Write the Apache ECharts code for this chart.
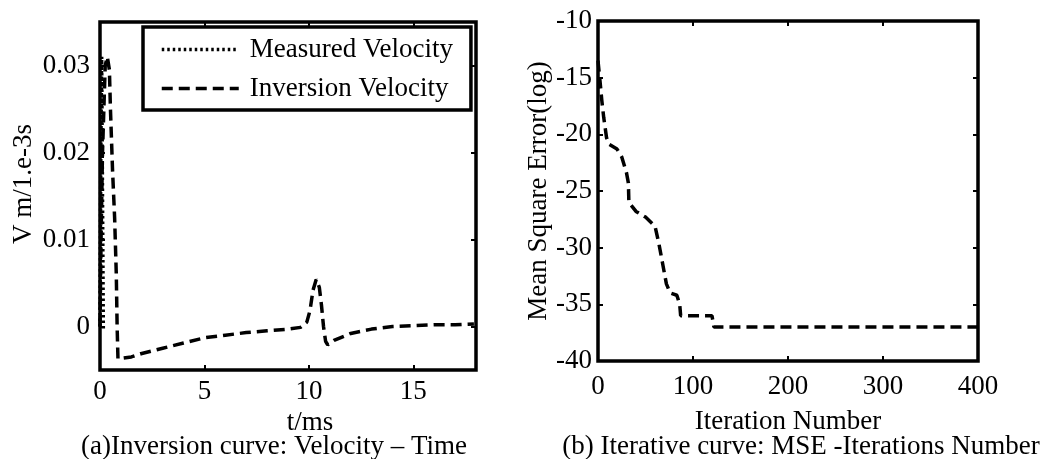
<!DOCTYPE html>
<html>
<head>
<meta charset="utf-8">
<script src="https://cdn.jsdelivr.net/npm/echarts@6/dist/echarts.min.js"></script>
<style>
html,body{margin:0;padding:0;background:#fff;}
#chart{width:1043px;height:459px;}
</style>
</head>
<body>
<div id="chart"></div>
<script>
// ---- Data (left: velocity vs time) ----
const tInv = [0, 0.05, 0.12, 0.25, 0.35, 0.45, 0.5, 0.6, 0.7, 0.78, 0.82, 0.86, 1.5, 2, 3, 4, 5, 6, 7, 8, 9, 9.6, 9.9, 10.05, 10.2, 10.35, 10.5, 10.6, 10.7, 10.8, 10.9, 11.2, 12, 13, 14, 15, 16, 17, 17.9];
const vInv = [0, 0.01, 0.02, 0.03, 0.031, 0.0295, 0.025, 0.018, 0.0125, 0.006, 0.0, -0.0037, -0.0035, -0.0031, -0.0025, -0.0019, -0.0013, -0.001, -0.0007, -0.0005, -0.0003, -0.0001, 0.0005, 0.0018, 0.0042, 0.0054, 0.0045, 0.0025, 0.0, -0.0017, -0.0021, -0.0016, -0.0008, -0.0003, 0.0, 0.0001, 0.0002, 0.0002, 0.0003];
const tMeas = [0, 0.04, 0.08, 0.12, 0.16];
const vMeas = [0, 0.02, 0.031, 0.015, -0.0005];
const leftXTicks = [0, 5, 10, 15];
const leftYTicks = [0, 0.01, 0.02, 0.03];

// ---- Data (right: MSE vs iterations) ----
const iter = [0, 2, 4, 6, 9, 12, 20, 25, 30, 32, 32.5, 40, 50, 60, 64, 68, 72, 76, 83, 86, 87, 120, 122, 400];
const mse = [-13.5, -15.2, -17, -18.5, -20.3, -20.9, -21.3, -22, -23.4, -24.3, -26, -26.8, -27.3, -28.1, -29.6, -31.4, -33.2, -34, -34.2, -35, -36, -36, -37, -37];

const FONT = 'Liberation Serif';
const FS = 27;
const LW = 3.5;
const zip = (a, b) => a.map((x, i) => [x, b[i]]);

const tickStyle = {show: true, inside: true, length: 5, lineStyle: {color: '#000', width: 2}};
const lblStyle = {color: '#000', fontFamily: FONT, fontSize: FS};

function xAx(grid, pos, opts, showLabel, extra) {
  return Object.assign({
    type: 'value', gridIndex: grid, position: pos,
    axisLine: {show: false, onZero: false},
    axisTick: Object.assign({}, tickStyle, opts.ticks ? {customValues: opts.ticks} : {}),
    axisLabel: Object.assign({show: showLabel}, lblStyle, opts.ticks ? {customValues: opts.ticks} : {}),
    splitLine: {show: false},
    min: opts.min, max: opts.max
  }, opts.interval ? {interval: opts.interval} : {}, extra || {});
}

const chart = echarts.init(document.getElementById('chart'), null, {renderer: 'canvas'});
chart.setOption({
  backgroundColor: '#fff',
  animation: false,
  grid: [
    {left: 100, top: 22, width: 376, height: 348, show: true, borderColor: '#000', borderWidth: 3.5, backgroundColor: 'transparent'},
    {left: 598, top: 21, width: 380, height: 340, show: true, borderColor: '#000', borderWidth: 3.5, backgroundColor: 'transparent'}
  ],
  legend: {
    show: true,
    orient: 'vertical',
    left: 143, top: 27,
    padding: [9, 18, 8, 17],
    itemWidth: 77, itemHeight: 20, itemGap: 12,
    borderColor: '#000', borderWidth: 3.5, backgroundColor: '#fff',
    itemStyle: {color: 'transparent', borderColor: 'transparent', borderWidth: 0},
    lineStyle: {color: '#000', width: LW},
    textStyle: {color: '#000', fontFamily: FONT, fontSize: FS, lineHeight: 27, padding: [0, 0, 0, 6]},
    data: ['Measured Velocity', 'Inversion Velocity']
  },
  xAxis: [
    xAx(0, 'bottom', {min: 0, max: 18, ticks: leftXTicks}, true, {
      name: 't/ms', nameLocation: 'middle', nameGap: 34,
      nameTextStyle: {color: '#000', fontFamily: FONT, fontSize: FS, padding: [0, 0, 0, 44]},
      axisLabel: Object.assign({customValues: leftXTicks, margin: 8}, lblStyle)
    }),
    xAx(0, 'top', {min: 0, max: 18, ticks: leftXTicks}, false),
    xAx(1, 'bottom', {min: 0, max: 400, interval: 100}, true, {
      name: 'Iteration Number', nameLocation: 'middle', nameGap: 47,
      nameTextStyle: {color: '#000', fontFamily: FONT, fontSize: FS},
      axisLabel: Object.assign({margin: 12}, lblStyle)
    }),
    xAx(1, 'top', {min: 0, max: 400, interval: 100}, false)
  ],
  yAxis: [
    xAx(0, 'left', {min: -0.005, max: 0.035, ticks: leftYTicks}, true, {
      name: 'V m/1.e-3s', nameLocation: 'middle', nameGap: 63, nameRotate: 90,
      nameTextStyle: {color: '#000', fontFamily: FONT, fontSize: FS, padding: [0, 0, 0, 24]},
      axisLabel: Object.assign({customValues: leftYTicks, margin: 10, formatter: v => String(v)}, lblStyle)
    }),
    xAx(0, 'right', {min: -0.005, max: 0.035, ticks: leftYTicks}, false),
    xAx(1, 'left', {min: -40, max: -10, interval: 5}, true, {
      name: 'Mean Square Error(log)', nameLocation: 'middle', nameGap: 43, nameRotate: 90,
      nameTextStyle: {color: '#000', fontFamily: FONT, fontSize: FS},
      axisLabel: Object.assign({margin: 6}, lblStyle)
    }),
    xAx(1, 'right', {min: -40, max: -10, interval: 5}, false)
  ],
  series: [
    {
      name: 'Measured Velocity', type: 'line', xAxisIndex: 0, yAxisIndex: 0,
      data: zip(tMeas, vMeas), showSymbol: false, symbol: 'none',
      lineStyle: {color: '#000', width: LW, type: [2.5, 3]}, itemStyle: {color: '#000'}, z: 2
    },
    {
      name: 'Inversion Velocity', type: 'line', xAxisIndex: 0, yAxisIndex: 0,
      data: zip(tInv, vInv), showSymbol: false, symbol: 'none',
      lineStyle: {color: '#000', width: LW, type: [11, 6]}, itemStyle: {color: '#000'}, z: 3
    },
    {
      name: 'MSE', type: 'line', xAxisIndex: 2, yAxisIndex: 2,
      data: zip(iter, mse), showSymbol: false, symbol: 'none',
      lineStyle: {color: '#000', width: LW, type: [11, 6]}, itemStyle: {color: '#000'}
    }
  ],
  graphic: [
    {type: 'text', x: 274, y: 447, style: {text: '(a)Inversion curve: Velocity \u2013 Time', fill: '#000', font: FS + 'px "' + FONT + '"', textAlign: 'center', textVerticalAlign: 'middle'}},
    {type: 'text', x: 801, y: 447, style: {text: '(b) Iterative curve: MSE -Iterations Number', fill: '#000', font: FS + 'px "' + FONT + '"', textAlign: 'center', textVerticalAlign: 'middle'}}
  ]
});
</script>
</body>
</html>
